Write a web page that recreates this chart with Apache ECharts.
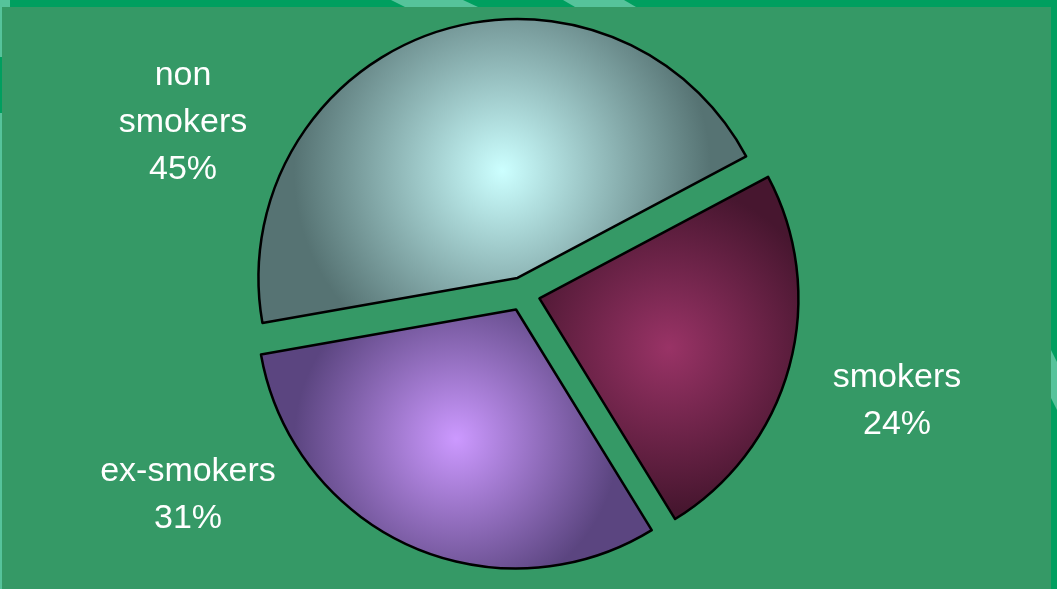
<!DOCTYPE html>
<html>
<head>
<meta charset="utf-8">
<script src="https://cdn.jsdelivr.net/npm/echarts@6/dist/echarts.min.js"></script>
<style>
html,body{margin:0;padding:0;background:#009f5f;}
#chart{width:1057px;height:589px;}
</style>
</head>
<body>
<div id="chart"></div>
<script>
// Data (clockwise order starting from the upper-right edge)
var categories = ['smokers', 'ex-smokers', 'non smokers'];
var values = [24, 31, 45];

// Styles
var centerColors = ['#993366', '#cc99ff', '#ccffff'];
var edgeColors = ['#47162f', '#5b4580', '#567373'];
var gradientRadius = [0.62, 0.62, 0.68];
var labelPositions = [[897, 401], [188, 495], [183, 123]];

var chart = echarts.init(document.getElementById('chart'), null, {renderer: 'canvas'});

var total = values.reduce(function (a, b) { return a + b; }, 0);

var seriesData = categories.map(function (name, i) {
  return {
    name: name,
    value: values[i],
    selected: true,
    itemStyle: {
      color: {
        type: 'radial', x: 0.5, y: 0.5, r: gradientRadius[i],
        colorStops: [
          {offset: 0, color: centerColors[i]},
          {offset: 1, color: edgeColors[i]}
        ]
      }
    }
  };
});

var labelTexts = categories.map(function (name, i) {
  return {
    type: 'text',
    z: 100,
    silent: true,
    x: labelPositions[i][0],
    y: labelPositions[i][1],
    style: {
      text: name.replace(' ', '\n') + '\n' + Math.round(values[i] / total * 100) + '%',
      fill: '#ffffff',
      fontFamily: 'Liberation Sans, Arial, sans-serif',
      fontSize: 34,
      lineHeight: 47,
      align: 'center',
      verticalAlign: 'middle'
    }
  };
});

var background = [
  {type: 'rect', z: -10, silent: true, shape: {x: 0, y: 0, width: 2, height: 589}, style: {fill: '#56c39b'}},
  {type: 'rect', z: -10, silent: true, shape: {x: 0, y: 57, width: 2, height: 56}, style: {fill: '#009f5f'}},
  {type: 'rect', z: -10, silent: true, shape: {x: 0, y: 0, width: 10, height: 7}, style: {fill: '#56c39b'}},
  {type: 'polygon', z: -10, silent: true, shape: {points: [[391, 0], [463, 0], [478, 7], [405, 7]]}, style: {fill: '#56c39b'}},
  {type: 'polygon', z: -10, silent: true, shape: {points: [[563, 0], [624, 0], [636, 7], [575, 7]]}, style: {fill: '#56c39b'}},
  {type: 'polygon', z: -10, silent: true, shape: {points: [[1051, 350], [1057, 362], [1057, 410], [1051, 398]]}, style: {fill: '#56c39b'}},
  {type: 'rect', z: -5, silent: true, shape: {x: 2, y: 7, width: 1049, height: 582}, style: {fill: '#359966'}}
];

var option = {
  backgroundColor: '#009f5f',
  animation: false,
  graphic: background.concat(labelTexts),
  series: [{
    type: 'pie',
    center: [523, 294],
    radius: 259,
    startAngle: 28,
    clockwise: true,
    avoidLabelOverlap: false,
    selectedMode: 'multiple',
    selectedOffset: 17,
    emphasis: {disabled: true},
    itemStyle: {borderColor: '#000000', borderWidth: 2.5},
    select: {itemStyle: {borderColor: '#000000', borderWidth: 2.5}},
    label: {show: false},
    labelLine: {show: false},
    data: seriesData
  }]
};
chart.setOption(option);
</script>
</body>
</html>
